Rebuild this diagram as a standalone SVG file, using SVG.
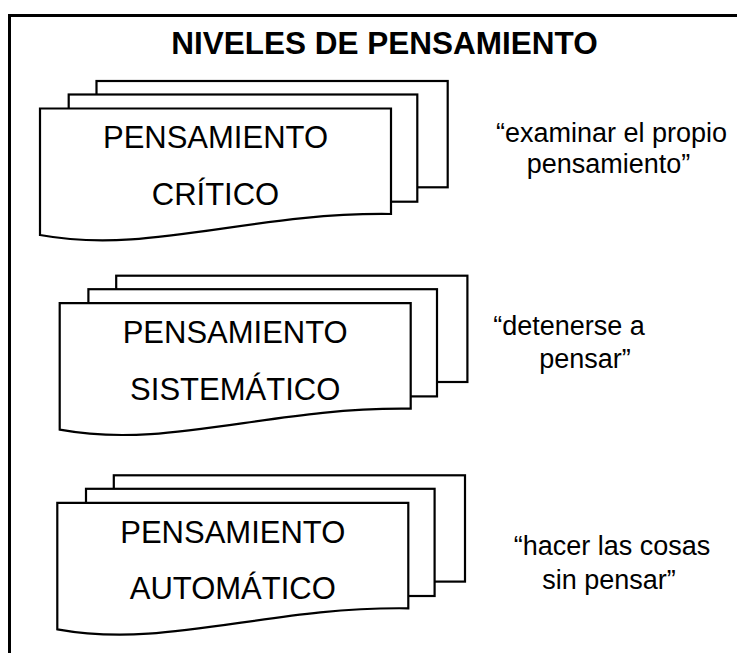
<svg xmlns="http://www.w3.org/2000/svg" width="737" height="653" viewBox="0 0 737 653">
<defs>
<style>
.frame{fill:none;stroke:#000;stroke-width:3}
.sheet{fill:#fff;stroke:#000;stroke-width:2.2;stroke-linejoin:miter}
.lbl{font-family:"Liberation Sans",Arial,sans-serif;font-size:31px;text-anchor:middle;fill:#000}
.title{font-family:"Liberation Sans",Arial,sans-serif;font-size:31.5px;font-weight:bold;text-anchor:middle;fill:#000}
.quote{font-family:"Liberation Sans",Arial,sans-serif;font-size:27px;text-anchor:middle;fill:#000}
</style>
<g id="docstack">
<rect class="sheet" x="96.5" y="81" width="351.2" height="106.3"/>
<rect class="sheet" x="68.7" y="94.5" width="348.6" height="107.2"/>
<path class="sheet" d="M40,108.5 H391 V214 C250,212 150,255 40,235 Z"/>
</g>
</defs>
<rect width="737" height="653" fill="#fff"/>
<rect class="frame" x="9.5" y="15.5" width="740" height="660"/>
<g id="title"><text class="title" x="384.5" y="54">NIVELES DE PENSAMIENTO</text></g>
<g id="critico">
<use href="#docstack"/>
<text class="lbl" x="215.5" y="148.3">PENSAMIENTO</text>
<text class="lbl" x="215.5" y="205">CRÍTICO</text>
</g>
<g id="sistematico" transform="translate(19.7,194.7)">
<use href="#docstack"/>
<text class="lbl" x="215.5" y="148.3">PENSAMIENTO</text>
<text class="lbl" x="215.5" y="205">SISTEMÁTICO</text>
</g>
<g id="automatico" transform="translate(17.3,394.3)">
<use href="#docstack"/>
<text class="lbl" x="215.5" y="148.3">PENSAMIENTO</text>
<text class="lbl" x="215.5" y="205">AUTOMÁTICO</text>
</g>
<g id="quote1">
<text class="quote" x="611.5" y="142">“examinar el propio</text>
<text class="quote" x="608.5" y="173">pensamiento”</text>
</g>
<g id="quote2">
<text class="quote" x="569" y="335">“detenerse a</text>
<text class="quote" x="585" y="368">pensar”</text>
</g>
<g id="quote3">
<text class="quote" x="612" y="555">“hacer las cosas</text>
<text class="quote" x="609" y="589">sin pensar”</text>
</g>
<g id="connectors"></g>
</svg>
